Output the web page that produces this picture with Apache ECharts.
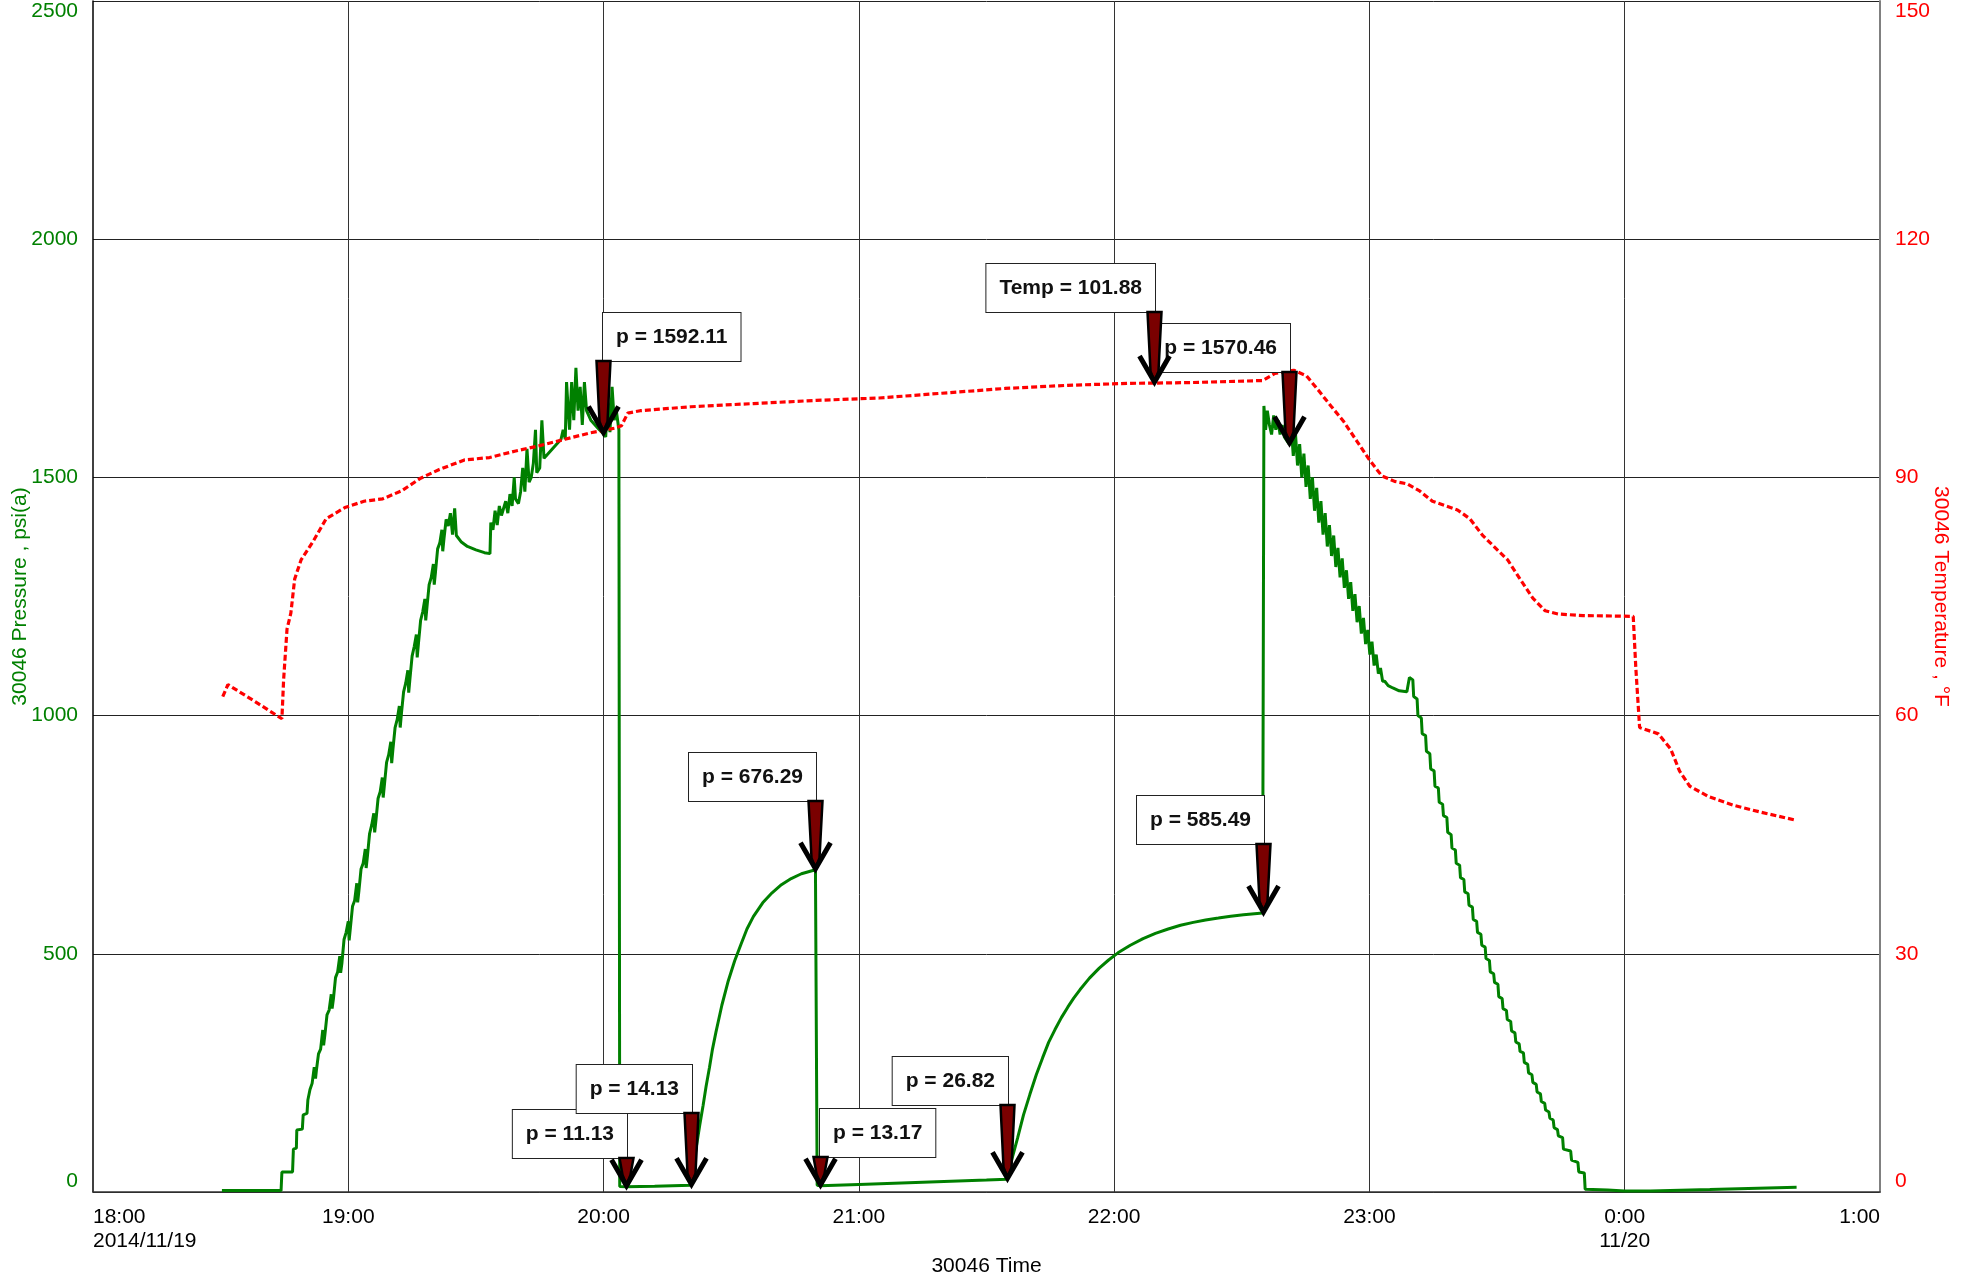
<!DOCTYPE html>
<html>
<head>
<meta charset="utf-8">
<script src="https://cdn.jsdelivr.net/npm/echarts@6/dist/echarts.min.js"></script>
<style>
  html, body { margin: 0; padding: 0; background: #fff; }
  #chart { width: 1971px; height: 1276px; }
</style>
</head>
<body>
<div id="chart"></div>
<script>
// Time is given in minutes after 18:00 on 2014/11/19.
const timeTickLabels = ['18:00\n2014/11/19', '19:00', '20:00', '21:00', '22:00', '23:00', '0:00\n11/20', '1:00'];

// Gauge 30046 pressure, psi(a): [minutes, psi]
const pressure = [
  [30.3, 3], [44.2, 3], [44.4, 42], [46.9, 42], [47.1, 90], [47.8, 92], [47.9, 130], [49.2, 132], [49.4, 162], [50.3, 165],
  [50.5, 193], [51.0, 215], [51.5, 228], [52.0, 262], [52.3, 238], [52.5, 255], [53.0, 290], [53.5, 300], [54.0, 340],
  [54.2, 308], [54.5, 330], [55.0, 372], [55.5, 382], [56.0, 415], [56.2, 385], [56.5, 405], [57.0, 450], [57.5, 462],
  [58.0, 495], [58.2, 460], [58.5, 480], [59.0, 530], [59.5, 545], [60.0, 568], [60.2, 528], [60.5, 555], [61.0, 600],
  [61.5, 612], [62.0, 648], [62.2, 608], [62.5, 632], [63.0, 678], [63.5, 690], [64.0, 720], [64.2, 680], [64.5, 705],
  [65.0, 752], [65.5, 770], [66.0, 795], [66.2, 755], [66.5, 780], [67.0, 826], [67.5, 840], [68.0, 870], [68.2, 828],
  [68.5, 855], [69.0, 902], [69.5, 918], [70.0, 945], [70.2, 900], [70.5, 930], [71.0, 975], [71.5, 992], [72.0, 1020],
  [72.2, 975], [72.5, 1005], [73.0, 1050], [73.5, 1068], [74.0, 1095], [74.2, 1048], [74.5, 1078], [75.0, 1125],
  [75.5, 1145], [76.0, 1170], [76.2, 1122], [76.5, 1152], [77.0, 1200], [77.5, 1218], [78.0, 1245], [78.2, 1200],
  [78.5, 1228], [79.0, 1275], [79.5, 1290], [80.0, 1318], [80.2, 1275], [80.5, 1302], [81.0, 1350], [81.5, 1362],
  [82.0, 1390], [82.2, 1345], [82.5, 1372], [83.0, 1412], [83.5, 1398], [84.0, 1425], [84.5, 1380],
  [85.0, 1435], [85.4, 1378], [86.5, 1365], [88.0, 1355], [90.0, 1348], [92.0, 1342], [93.3, 1340],
  [93.5, 1405], [94.0, 1390], [94.5, 1430], [95.0, 1400], [95.5, 1440], [96.0, 1420], [97.0, 1450], [97.5, 1425],
  [98.0, 1465], [98.5, 1440], [99.0, 1500], [99.3, 1455], [100.0, 1445], [100.5, 1470], [101.0, 1520], [101.5, 1470],
  [102.0, 1560], [102.5, 1490], [103.0, 1500], [103.5, 1530], [104.0, 1600], [104.3, 1510], [105.0, 1520], [105.5, 1620],
  [106.0, 1540], [107.0, 1550], [108.0, 1560], [109.0, 1570], [110.0, 1580], [110.5, 1600], [111.0, 1580], [111.3, 1700],
  [111.7, 1640], [112.0, 1600], [112.5, 1700], [113.0, 1620], [113.5, 1730], [114.0, 1640], [114.5, 1690], [115.0, 1610],
  [115.5, 1700], [116.0, 1640], [117.0, 1620], [118.0, 1610], [119.0, 1600], [119.9, 1592.11], [120.5, 1585],
  [121.0, 1670], [121.5, 1595], [122.0, 1690], [122.5, 1620], [123.0, 1640], [123.6, 1600], [123.8, 11.5],
  [125.3, 11.13], [132.0, 12.2], [140.5, 14.13],
  [141.2, 60], [141.9, 100], [142.6, 140], [143.4, 182], [144.1, 222], [144.9, 262], [145.6, 300], [146.4, 335],
  [147.8, 392], [149.3, 443], [150.8, 485], [152.3, 520], [153.7, 552], [155.2, 578], [157.4, 607], [159.6, 628],
  [161.8, 645], [164.1, 658], [166.5, 668], [169.8, 676.29], [170.2, 14], [170.9, 13.17],
  [180.0, 16], [190.0, 19], [200.0, 22], [210.0, 25], [214.8, 26.82],
  [216.0, 70], [217.3, 113], [218.7, 162], [220.2, 205], [221.7, 246], [223.2, 282], [224.6, 314], [226.1, 341],
  [227.6, 366], [229.1, 388], [230.5, 407], [232.0, 425], [234.2, 449], [236.5, 470], [238.7, 487], [240.9, 502],
  [243.8, 518], [246.8, 532], [249.7, 543], [252.7, 552], [255.6, 560], [258.6, 566], [261.5, 571], [264.5, 575],
  [267.4, 579], [270.4, 582], [274.9, 585.49],
  [275.2, 1650], [275.6, 1600], [276.0, 1640], [276.5, 1610], [277.0, 1590], [277.5, 1630], [278.0, 1600], [278.5, 1620],
  [279.0, 1590], [279.5, 1610], [280.0, 1585], [281.1, 1570.46], [281.6, 1610], [282.1, 1545], [282.6, 1595],
  [283.1, 1525], [283.6, 1570], [284.1, 1500], [284.6, 1550], [285.1, 1480], [285.6, 1525], [286.1, 1455], [286.6, 1500],
  [287.1, 1430], [287.6, 1478], [288.1, 1405], [288.6, 1450], [289.1, 1380], [289.6, 1425], [290.1, 1355], [290.6, 1400],
  [291.1, 1335], [291.6, 1378], [292.1, 1312], [292.6, 1352], [293.1, 1290], [293.6, 1330], [294.1, 1268], [294.6, 1305],
  [295.1, 1245], [295.6, 1280], [296.1, 1220], [296.6, 1255], [297.1, 1196], [297.6, 1230], [298.1, 1172], [298.6, 1205],
  [299.1, 1150], [299.6, 1180], [300.1, 1128], [300.6, 1155], [301.1, 1105], [301.6, 1128], [302.1, 1088], [302.6, 1100],
  [303.1, 1072], [303.6, 1072], [304.4, 1063], [305.5, 1058], [307.0, 1052], [308.8, 1050], [309.4, 1080],
  [310.2, 1075], [310.4, 1040], [311.2, 1035], [311.4, 1000], [312.2, 995], [312.4, 962], [313.2, 958], [313.4, 925],
  [314.2, 920], [314.4, 888], [315.2, 884], [315.4, 852], [316.2, 848], [316.4, 818], [317.2, 814], [317.4, 790],
  [318.2, 786], [318.4, 755], [319.2, 750], [319.4, 722], [320.2, 718], [320.4, 690], [321.2, 686], [321.4, 660],
  [322.2, 656], [322.4, 630], [323.2, 626], [323.4, 602], [324.2, 598], [324.4, 572], [325.2, 568], [325.4, 545],
  [326.2, 541], [326.4, 518], [327.2, 514], [327.4, 490], [328.2, 486], [328.4, 462], [329.2, 458], [329.4, 440],
  [330.2, 436], [330.4, 410], [331.2, 406], [331.4, 385], [332.2, 381], [332.4, 362], [333.2, 358], [333.4, 338],
  [334.2, 334], [334.4, 315], [335.2, 311], [335.4, 295], [336.2, 292], [336.4, 272], [337.2, 268], [337.4, 250],
  [338.2, 246], [338.4, 230], [339.2, 226], [339.4, 210], [340.2, 206], [340.4, 190], [341.2, 186], [341.4, 172],
  [342.2, 168], [342.4, 155], [343.2, 151], [343.4, 135], [344.2, 131], [344.4, 118], [345.4, 114], [345.6, 90],
  [347.3, 86], [347.5, 67], [349.0, 62], [349.2, 42], [350.5, 40], [350.7, 6], [356.0, 4], [360.0, 2], [366.0, 2],
  [380.0, 5], [400.4, 10]
];

// Gauge 30046 temperature, °F: [minutes, degF]
const temperature = [
  [30.5, 62.4], [31.7, 63.9], [38.0, 61.8], [44.4, 59.6], [44.8, 64.5], [45.6, 70.9], [46.5, 72.9], [47.4, 77.2],
  [48.9, 79.6], [51.8, 82.0], [54.8, 84.8], [59.2, 86.2], [63.7, 87.0], [68.1, 87.3], [72.5, 88.3], [77.0, 89.9],
  [81.4, 91.0], [87.3, 92.2], [93.2, 92.5], [99.1, 93.3], [105.0, 94.0], [110.9, 94.8], [116.8, 95.6], [119.8, 95.9],
  [122.7, 96.2], [124.2, 96.5], [125.7, 98.1], [128.6, 98.4], [140.5, 98.9], [155.2, 99.3], [170.0, 99.7],
  [184.8, 100.0], [199.5, 100.6], [214.3, 101.2], [229.1, 101.6], [243.9, 101.85], [249.4, 101.88], [258.6, 101.95],
  [274.9, 102.2], [277.8, 103.1], [282.2, 103.5], [285.2, 102.8], [288.1, 100.9], [291.1, 98.9], [294.0, 97.0],
  [297.0, 94.6], [300.0, 92.2], [302.9, 90.2], [305.9, 89.5], [308.8, 89.2], [311.8, 88.3], [314.8, 87.0],
  [320.7, 85.9], [323.6, 84.8], [326.6, 82.7], [332.5, 79.6], [335.4, 77.2], [338.4, 74.8], [341.3, 73.2],
  [344.3, 72.8], [350.2, 72.6], [362.0, 72.5], [362.6, 66.1], [363.5, 58.5], [367.9, 57.7], [370.8, 55.8],
  [372.9, 53.0], [375.3, 51.1], [379.7, 49.8], [385.6, 48.7], [391.5, 47.9], [400.4, 46.8]
];

// Marked readings: [minutes, value]
const pressureCallouts = [
  [119.9, 1592.11], [125.3, 11.13], [140.5, 14.13], [169.8, 676.29],
  [170.9, 13.17], [214.8, 26.82], [274.9, 585.49], [281.1, 1570.46]
];
const temperatureCallouts = [[249.4, 101.88]];

// Callout layout: side of the arrow the box sits on, and arrow length in px
const pressureCalloutSide = ['right', 'left', 'left', 'left', 'right', 'left', 'left', 'left'];
const pressureCalloutLift = [73, 29, 72, 69, 29, 74, 69, 72];
const temperatureCalloutSide = ['left'];
const temperatureCalloutLift = [71];

const FONT = '"Liberation Sans", Arial, Helvetica, sans-serif';

function calloutRenderer(prefix, sides, lifts) {
  return function (params, api) {
    const i = params.dataIndex;
    const value = api.value(1);
    const tip = api.coord([api.value(0), value]);
    const x = Math.round(tip[0]) + 0.5;
    const y = tip[1];
    const top = Math.round(y - lifts[i]);
    const boxOnRight = sides[i] === 'right';
    return {
      type: 'group',
      children: [
        {
          type: 'text',
          x: boxOnRight ? x - 0.5 : x + 0.5,
          y: top,
          style: {
            text: prefix + value.toFixed(2),
            align: boxOnRight ? 'left' : 'right',
            verticalAlign: 'bottom',
            font: 'bold 21px ' + FONT,
            fill: '#111',
            backgroundColor: '#fff',
            borderColor: '#222',
            borderWidth: 1,
            padding: [12, 13, 12, 13],
            lineHeight: 24
          }
        },
        {
          type: 'polygon',
          shape: { points: [[x - 7, top], [x + 7, top], [x + 4, y - 12], [x, y - 1], [x - 4, y - 12]] },
          style: { fill: '#7a0000', stroke: '#000', lineWidth: 2.5, lineJoin: 'miter' }
        },
        {
          type: 'polyline',
          shape: { points: [[x - 15, y - 27], [x, y - 1], [x + 15, y - 27]] },
          style: { fill: null, stroke: '#000', lineWidth: 5, lineJoin: 'miter' }
        }
      ]
    };
  };
}

const chart = echarts.init(document.getElementById('chart'), null, { renderer: 'canvas' });

chart.setOption({
  animation: false,
  backgroundColor: '#fff',
  textStyle: { fontFamily: FONT },
  grid: { left: 93, right: 91, top: 1, bottom: 84, outerBoundsMode: 'none', containLabel: false },
  xAxis: {
    type: 'value',
    min: 0,
    max: 420,
    interval: 60,
    axisLine: { show: true, onZero: false, lineStyle: { color: '#333', width: 1.5 } },
    axisTick: { show: false },
    splitLine: { show: true, showMinLine: false, showMaxLine: false, lineStyle: { color: '#333', width: 1 } },
    axisLabel: {
      formatter: function (v) { return timeTickLabels[Math.round(v / 60)]; },
      color: '#000',
      fontSize: 21,
      fontFamily: FONT,
      lineHeight: 24,
      margin: 13,
      alignMinLabel: 'left',
      alignMaxLabel: 'right'
    },
    name: '30046 Time',
    nameLocation: 'middle',
    nameGap: 64,
    nameMoveOverlap: false,
    nameTextStyle: { color: '#000', fontSize: 21, fontFamily: FONT }
  },
  yAxis: [
    {
      type: 'value',
      position: 'left',
      min: 0,
      max: 2500,
      interval: 500,
      axisLine: { show: true, lineStyle: { color: '#000', width: 1.5 } },
      axisTick: { show: false },
      splitLine: { show: true, lineStyle: { color: '#222', width: 1 } },
      axisLabel: {
        formatter: function (v) { return String(v); },
        color: '#008000',
        fontSize: 21,
        fontFamily: FONT,
        margin: 15,
        verticalAlignMinLabel: 'bottom',
        verticalAlignMaxLabel: 'top'
      },
      name: '30046 Pressure , psi(a)',
      nameLocation: 'middle',
      nameGap: 62,
      nameRotate: 90,
      nameMoveOverlap: false,
      nameTextStyle: { color: '#008000', fontSize: 21, fontFamily: FONT }
    },
    {
      type: 'value',
      position: 'right',
      min: 0,
      max: 150,
      interval: 30,
      axisLine: { show: true, lineStyle: { color: '#808080', width: 2 } },
      axisTick: { show: false },
      splitLine: { show: false },
      axisLabel: {
        formatter: function (v) { return String(v); },
        color: '#ff0000',
        fontSize: 21,
        fontFamily: FONT,
        margin: 15,
        verticalAlignMinLabel: 'bottom',
        verticalAlignMaxLabel: 'top'
      },
      name: '30046 Temperature , °F',
      nameLocation: 'middle',
      nameGap: 50,
      nameRotate: -90,
      nameMoveOverlap: false,
      nameTextStyle: { color: '#ff0000', fontSize: 21, fontFamily: FONT }
    }
  ],
  series: [
    {
      name: '30046 Pressure',
      type: 'line',
      yAxisIndex: 0,
      data: pressure,
      symbol: 'none',
      sampling: null,
      lineStyle: { color: '#008000', width: 3 },
      z: 2
    },
    {
      name: '30046 Temperature',
      type: 'line',
      yAxisIndex: 1,
      data: temperature,
      symbol: 'none',
      lineStyle: { color: '#ff0000', width: 3.2, type: [6, 3] },
      z: 3
    },
    {
      type: 'custom',
      yAxisIndex: 0,
      data: pressureCallouts,
      renderItem: calloutRenderer('p = ', pressureCalloutSide, pressureCalloutLift),
      z: 5
    },
    {
      type: 'custom',
      yAxisIndex: 1,
      data: temperatureCallouts,
      renderItem: calloutRenderer('Temp = ', temperatureCalloutSide, temperatureCalloutLift),
      z: 6
    }
  ]
});
</script>
</body>
</html>
